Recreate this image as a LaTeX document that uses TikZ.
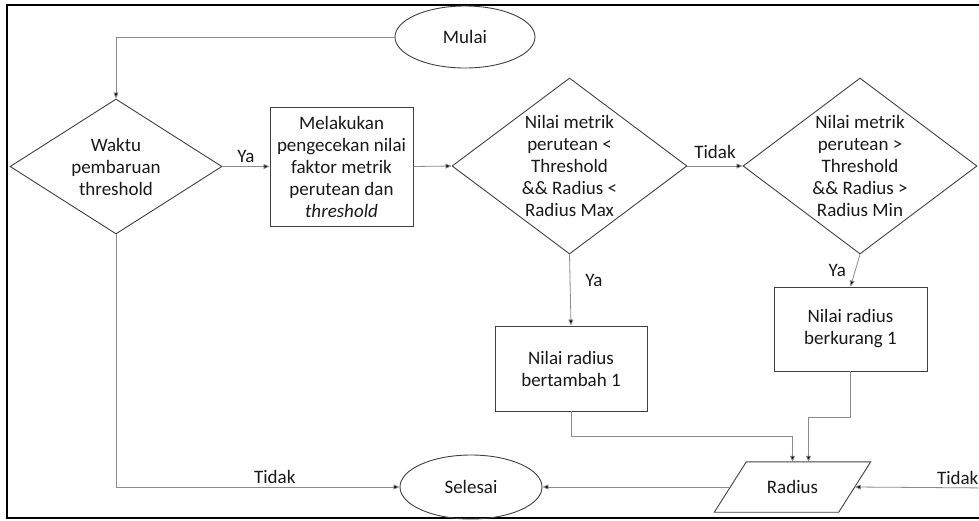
\documentclass[tikz,border=0pt]{standalone}
\usepackage{fontspec}
\setmainfont{Carlito}
\usepackage{tikz}
\usetikzlibrary{shapes.geometric,arrows.meta}
\usepackage{xcolor}

\definecolor{shapeline}{HTML}{404040}
\definecolor{flowline}{HTML}{8C8C8C}

\tikzset{
  every node/.style={font=\fontsize{19}{22}\selectfont, text=black!90},
  terminal/.style={ellipse,draw=shapeline,line width=0.9pt,inner sep=0pt},
  decision/.style={diamond,draw=shapeline,line width=0.9pt,inner sep=0pt,align=center},
  process/.style={rectangle,draw=shapeline,line width=0.9pt,inner sep=0pt,align=center},
  iobox/.style={rectangle,inner sep=0pt,minimum width=124pt,minimum height=50pt},
  flow/.style={draw=flowline,line width=0.8pt,-{Triangle[length=6pt,width=5pt,fill=black]}},
  lbl/.style={inner sep=3pt}
}

\begin{document}
\begin{tikzpicture}[x=1pt,y=-1pt]
        \useasboundingbox (0,0) rectangle (979,520);
        \draw[line width=2pt] (7,5) rectangle (992,518);

        \node[terminal,minimum width=140pt,minimum height=62pt] (mulai) at (465,37) {Mulai};
        \node[decision,aspect=1.57,minimum width=212pt,minimum height=135pt] (waktu) at (116,166.5) {Waktu\\pembaruan\\threshold};
        \node[process,minimum width=143pt,minimum height=119pt] (cek) at (341.5,166.5) {Melakukan\\pengecekan nilai\\faktor metrik\\perutean dan\\\textit{threshold}};
        \node[decision,aspect=1.335,minimum width=235pt,minimum height=176pt] (kurang) at (569.5,166) {Nilai metrik\\perutean <\\Threshold\\\&\& Radius <\\Radius Max};
        \node[decision,aspect=1.335,minimum width=234pt,minimum height=176pt] (lebih) at (860,166) {Nilai metrik\\perutean >\\Threshold\\\&\& Radius >\\Radius Min};
        \node[process,minimum width=152pt,minimum height=85pt] (tambah) at (571,368.5) {Nilai radius\\bertambah 1};
        \node[process,minimum width=153pt,minimum height=84pt] (kurangi) at (850.5,329) {Nilai radius\\berkurang 1};
        \node[iobox] (radius) at (792.5,487) {Radius};
        \draw[draw=shapeline,line width=0.9pt] ([xshift=-16pt]radius.south west) -- ([xshift=16pt]radius.north west)
          -- ([xshift=16pt]radius.north east) -- ([xshift=-16pt]radius.south east) -- cycle;
        \node[terminal,minimum width=142pt,minimum height=64pt] (selesai) at (471,487) {Selesai};
        \coordinate (masuk) at (992,488);

        \draw[flow] (mulai.west) -| (waktu.north);
        \draw[flow] (waktu.east) -- node[lbl,above]{Ya} (cek.west);
        \draw[flow] (cek.east) -- (kurang.west);
        \draw[flow] (kurang.east) -- node[lbl,above,yshift=4pt]{Tidak} (lebih.west);
        \draw[flow] (kurang.south) -- node[lbl,right=12pt,pos=0.36]{Ya} (tambah.north);
        \draw[flow] (lebih.south) -- node[lbl,left=6pt,pos=0.5]{Ya} (kurangi.north);
        \draw[flow] (waktu.south) |- node[lbl,above,pos=0.78]{Tidak} (selesai.west);
        \draw[flow] (tambah.south) -- ++(0,25) -| (radius.north);
        \draw[flow] (kurangi.south) -- ++(0,46) -| ([xshift=16pt]radius.north);
        \draw[flow] (radius.west) -- (selesai.east);
        \draw[flow] (masuk) -- node[lbl,above,pos=0.25]{Tidak} (radius.east);
      \end{tikzpicture}
\end{document}
